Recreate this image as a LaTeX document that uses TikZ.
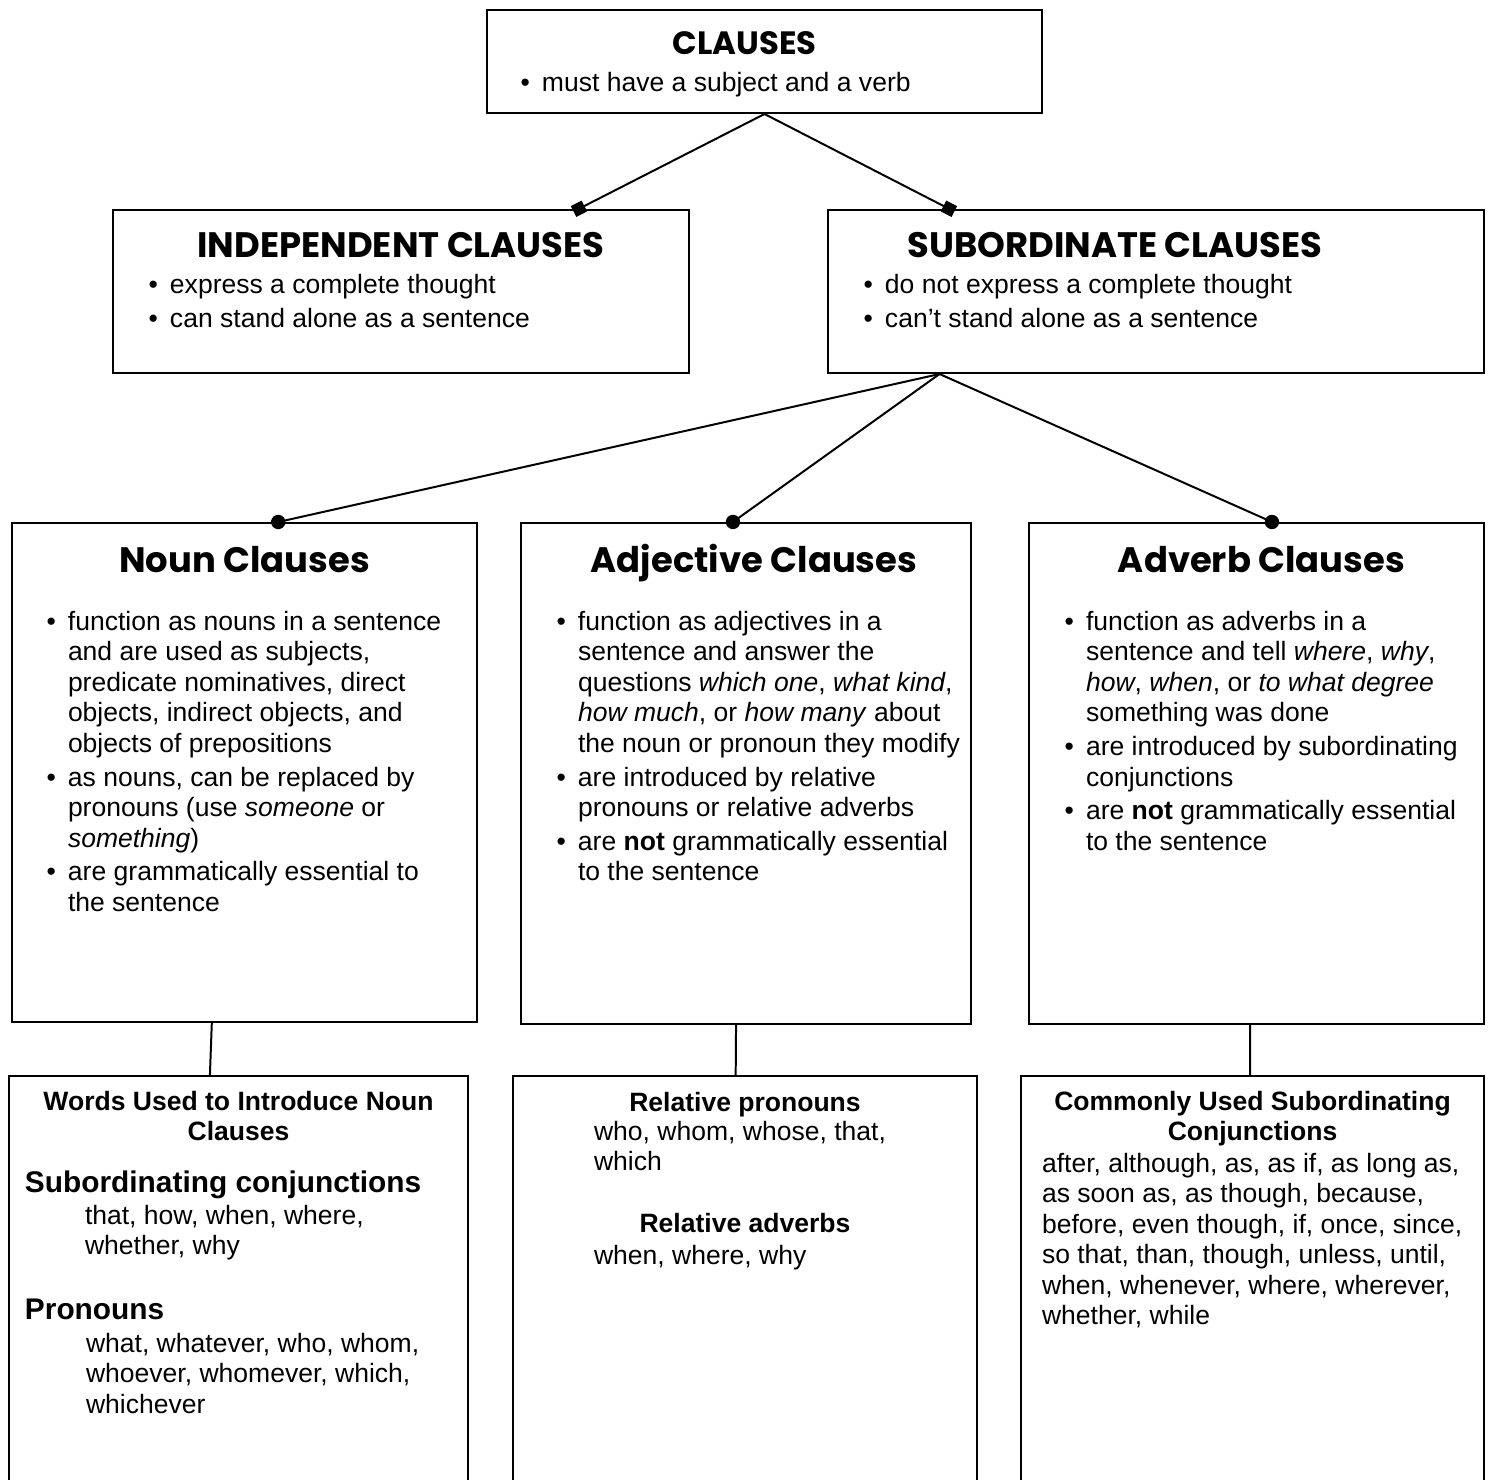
\documentclass[tikz,border=0pt]{standalone}
\usepackage{fontspec}
\setmainfont{Liberation Sans}
\newfontfamily\headfont{Poppins}
\usetikzlibrary{arrows.meta,positioning,fit,calc}
\newcommand\bul{\llap{\textbullet\hspace{5.5pt}}}

\begin{document}
\begin{tikzpicture}[x=0.0159cm,y=-0.0159cm,
        line width=0.9pt,
        box/.style={draw,inner sep=0pt,fit={#1}},
        txt/.style={inner sep=0pt,align=left,anchor=north west,font=\fontsize{12}{13.8}\selectfont},
        ctr/.style={inner sep=0pt,align=center,anchor=north,font=\bfseries\fontsize{12}{13.8}\selectfont},
        head/.style={inner sep=0pt,anchor=base,font=\headfont\bfseries\fontsize{#1}{#1}\selectfont},
        sub/.style={inner sep=0pt,anchor=base west,font=\bfseries\fontsize{13.5}{14}\selectfont},
        sq/.style={-{Square[length=5.5pt,width=5.5pt]},shorten >=-2.5pt},
        dot/.style={-{Circle[length=6.5pt]},shorten >=-3.2pt}]

  \useasboundingbox (0,0) rectangle (1498,1479);
  \clip (0,0) rectangle (1498,1479);

  %% top
  \node [box={(487,10) (1042,113)}] (box_clauses) {};
  \node [head=14.6] (head_clauses) at($(box_clauses.north)+(-20,45)$) {CLAUSES};
  \node [txt] (txt_clauses) at($(box_clauses.north west)+(55,62)$) {\bul must have a subject and a verb};

  %% second line
  \node [box={(113,210) (689,373)}] (box_indep) {};
  \node [head=16] (head_indep) at($(box_indep.north)+(0,48)$) {INDEPENDENT CLAUSES};
  \node [txt] (txt_indep) at($(box_indep.north west)+(57,64)$) {\bul express a complete thought\\[1.5pt]
    \bul can stand alone as a sentence};

  \node [box={(828,210) (1484,373)}] (box_sub) {};
  \node [head=16] (head_sub) at($(box_sub.north)+(-41,48)$) {SUBORDINATE CLAUSES};
  \node [txt] (txt_sub) at($(box_sub.north west)+(57,64)$) {\bul do not express a complete thought\\[1.5pt]
    \bul can’t stand alone as a sentence};

  %% third line
  \node [box={(12,523) (477,1022)}] (box_noun) {};
  \node [head=16] (head_noun) at($(box_noun.north)+(0,50)$) {Noun Clauses};
  \node [txt] (txt_noun) at($(box_noun.north west)+(56,88)$) {\bul function as nouns in a sentence\\
    and are used as subjects,\\ predicate nominatives, direct\\ objects, indirect objects, and\\
    objects of prepositions\\[1.5pt]
    \bul as nouns, can be replaced by\\ pronouns (use \textit{someone} or\\ \textit{something})\\[1.5pt]
    \bul are grammatically essential to\\ the sentence};

  \node [box={(521,523) (971,1024)}] (box_adj) {};
  \node [head=16] (head_adj) at($(box_adj.north)+(8,50)$) {Adjective Clauses};
  \node [txt] (txt_adj) at($(box_adj.north west)+(57,88)$) {\bul function as adjectives in a\\
    sentence and answer the\\ questions \textit{which one}, \textit{what kind},\\
    \textit{how much}, or \textit{how many} about\\ the noun or pronoun they modify\\[1.5pt]
    \bul are introduced by relative\\ pronouns or relative adverbs\\[1.5pt]
    \bul are \textbf{not} grammatically essential\\ to the sentence};

  \node [box={(1029,523) (1484,1024)}] (box_adv) {};
  \node [head=16] (head_adv) at($(box_adv.north)+(5,50)$) {Adverb Clauses};
  \node [txt] (txt_adv) at($(box_adv.north west)+(57,88)$) {\bul function as adverbs in a\\
    sentence and tell \textit{where}, \textit{why},\\ \textit{how}, \textit{when}, or \textit{to what degree}\\
    something was done\\[1.5pt]
    \bul are introduced by subordinating\\ conjunctions\\[1.5pt]
    \bul are \textbf{not} grammatically essential\\ to the sentence};

  %% bottom line
  \node [box={(9,1076) (468,1520)}] (box_words) {};
  \node [ctr] (head_words) at($(box_words.north)+(0,15)$) {Words Used to Introduce Noun\\ Clauses};
  \node [sub] (sub_conj) at($(box_words.north west)+(16,117)$) {Subordinating conjunctions};
  \node [txt] (list_conj) at($(box_words.north west)+(76,129)$) {that, how, when, where,\\ whether, why};
  \node [sub] (sub_pron) at($(box_words.north west)+(16,244)$) {Pronouns};
  \node [txt] (list_pron) at($(box_words.north west)+(77,257)$) {what, whatever, who, whom,\\
    whoever, whomever, which,\\ whichever};

  \node [box={(513,1076) (977,1520)}] (box_rel) {};
  \node [ctr,anchor=base] (head_relpro) at($(box_rel.north)+(0,36)$) {Relative pronouns};
  \node [txt] (list_relpro) at($(box_rel.north west)+(81,45)$) {who, whom, whose, that,\\ which};
  \node [ctr,anchor=base] (head_reladv) at($(box_rel.north)+(0,157)$) {Relative adverbs};
  \node [txt] (list_reladv) at($(box_rel.north west)+(81,169)$) {when, where, why};

  \node [box={(1021,1076) (1484,1520)}] (box_common) {};
  \node [ctr] (head_common) at($(box_common.north)+(0,15)$) {Commonly Used Subordinating\\ Conjunctions};
  \node [txt] (list_common) at($(box_common.north west)+(21,77)$) {after, although, as, as if, as long as,\\
    as soon as, as though, because,\\ before, even though, if, once, since,\\
    so that, than, though, unless, until,\\ when, whenever, where, wherever,\\ whether, while};

  %% connectors
  \coordinate (pin_indep) at($(box_indep.north west)!.807!(box_indep.north east)$);
  \coordinate (pin_sub) at($(box_sub.north west)!.186!(box_sub.north east)$);
  \coordinate (foot_sub) at($(box_sub.south west)!.171!(box_sub.south east)$);
  \coordinate (pin_noun) at($(box_noun.north west)!.572!(box_noun.north east)$);
  \coordinate (pin_adj) at($(box_adj.north west)!.471!(box_adj.north east)$);
  \coordinate (pin_adv) at($(box_adv.north west)!.534!(box_adv.north east)$);
  \draw [sq] (box_clauses.south) -- (pin_indep);
  \draw [sq] (box_clauses.south) -- (pin_sub);
  \draw [dot] (foot_sub) -- (pin_noun);
  \draw [dot] (foot_sub) -- (pin_adj);
  \draw [dot] (foot_sub) -- (pin_adv);
  \draw ($(box_noun.south west)!.43!(box_noun.south east)$) -- ($(box_words.north west)!.438!(box_words.north east)$);
  \draw ($(box_adj.south west)!.478!(box_adj.south east)$) -- ($(box_rel.north west)!.48!(box_rel.north east)$);
  \draw ($(box_adv.south west)!.486!(box_adv.south east)$) -- ($(box_common.north west)!.495!(box_common.north east)$);
\end{tikzpicture}
\end{document}
